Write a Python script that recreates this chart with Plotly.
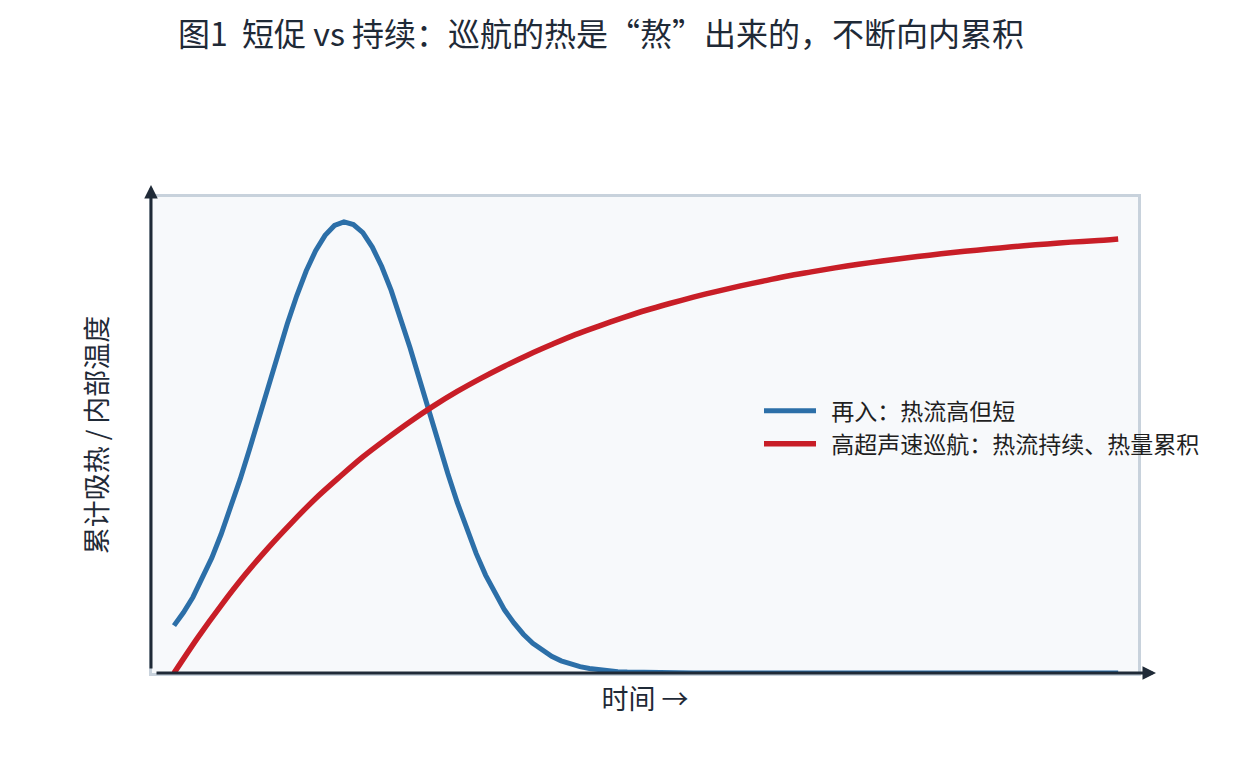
import plotly.graph_objects as go

# ---- data ----
reentry_x = [0.0, 0.1, 0.2, 0.3, 0.4, 0.5, 0.6, 0.7, 0.8, 0.9, 1.0, 1.1, 1.2, 1.3, 1.4,
             1.5, 1.6, 1.7, 1.8, 1.9, 2.0, 2.1, 2.2, 2.3, 2.4, 2.5, 2.6, 2.7, 2.8, 2.9,
             3.0, 3.1, 3.2, 3.3, 3.4, 3.5, 3.6, 3.7, 3.8, 3.9, 4.0, 4.1, 4.2, 4.3, 4.4,
             4.5, 4.6, 4.7, 4.8, 4.9, 5.0, 5.5, 6.0, 6.5, 7.0, 7.5, 8.0, 8.5, 9.0, 9.5, 10.0]
reentry_y = [0.105, 0.134, 0.168, 0.209, 0.255, 0.308, 0.366, 0.429, 0.496, 0.566,
             0.637, 0.707, 0.774, 0.836, 0.891, 0.936, 0.970, 0.992, 1.000, 0.994,
             0.976, 0.944, 0.901, 0.848, 0.787, 0.721, 0.651, 0.580, 0.510, 0.442,
             0.378, 0.319, 0.265, 0.217, 0.176, 0.140, 0.111, 0.086, 0.066, 0.050,
             0.037, 0.027, 0.020, 0.014, 0.010, 0.007, 0.005, 0.003, 0.002, 0.0014,
             0.0009, 0.0001, 0.0, 0.0, 0.0, 0.0, 0.0, 0.0, 0.0, 0.0, 0.0]

cruise_x = [0.0, 0.25, 0.5, 0.75, 1.0, 1.25, 1.5, 1.75, 2.0, 2.25, 2.5, 2.75, 3.0, 3.25,
            3.5, 3.75, 4.0, 4.25, 4.5, 4.75, 5.0, 5.25, 5.5, 5.75, 6.0, 6.25, 6.5, 6.75,
            7.0, 7.25, 7.5, 7.75, 8.0, 8.25, 8.5, 8.75, 9.0, 9.25, 9.5, 9.75, 10.0]
cruise_y = [0.0, 0.078, 0.150, 0.217, 0.278, 0.334, 0.387, 0.434, 0.479, 0.519,
            0.557, 0.592, 0.624, 0.653, 0.680, 0.705, 0.728, 0.750, 0.769, 0.787,
            0.804, 0.819, 0.833, 0.846, 0.858, 0.869, 0.880, 0.889, 0.898, 0.906,
            0.913, 0.920, 0.926, 0.932, 0.937, 0.942, 0.947, 0.951, 0.955, 0.958, 0.962]

series_names = ["再入：热流高但短", "高超声速巡航：热流持续、热量累积"]
title_text = "图1  短促 vs 持续：巡航的热是“熬”出来的，不断向内累积"
x_title = "时间 →"
y_title = "累计吸热 / 内部温度"

BLUE = "#2c6fa8"
RED = "#c81e27"
DARK = "#1f2a37"
BORDER = "#c8d2dc"
FONT = "Noto Sans CJK SC"

fig = go.Figure()
fig.add_trace(go.Scatter(
    x=reentry_x, y=reentry_y, mode="lines", name="\u00a0\u00a0" + series_names[0],
    line=dict(color=BLUE, width=5), cliponaxis=False, legendgroup="a"))
fig.add_trace(go.Scatter(
    x=cruise_x, y=cruise_y, mode="lines", name="\u00a0\u00a0" + series_names[1],
    line=dict(color=RED, width=5.5, shape="spline", smoothing=0.8), cliponaxis=False,
    legendgroup="b"))

W, H = 1241, 761
OFF = 8  # page body margin
# target pixel positions on the page
PL, PR, PT, PB = 152, 1138, 197, 673
L, T = PL - OFF, PT - OFF
R = W - (PR - OFF)
B = H - (PB - OFF)
PW = PR - PL
PH = PB - PT

fig.update_layout(
    width=W, height=H,
    margin=dict(l=L, r=R, t=T, b=B),
    paper_bgcolor="white",
    plot_bgcolor="#f7f9fb",
    font=dict(family=FONT, color=DARK),
    title=dict(text=title_text, x=(178 - OFF) / W, xref="container", xanchor="left",
               y=1 - (35 - OFF) / H, yref="container", yanchor="middle",
               font=dict(size=32, family=FONT, color=DARK)),
    showlegend=True,
    legend=dict(x=(759 - PL) / PW, y=0.596, xanchor="left", yanchor="top",
                bgcolor="rgba(0,0,0,0)", borderwidth=0, itemwidth=52,
                tracegroupgap=0, font=dict(size=23, family=FONT, color="#1f1f1f")),
)
fig.update_xaxes(range=[-0.233, 10.21], showgrid=False, zeroline=False,
                 showticklabels=False, ticks="", showline=True, linecolor=BORDER,
                 linewidth=2.5, mirror=True,
                 title=dict(text=x_title, font=dict(size=27, family=FONT, color=DARK),
                            standoff=16))
fig.update_yaxes(range=[0, 1.055], showgrid=False, zeroline=False,
                 showticklabels=False, ticks="", showline=True, linecolor=BORDER,
                 linewidth=2.5, mirror=True,
                 title=dict(text=y_title, font=dict(size=27, family=FONT, color=DARK),
                            standoff=34))

# axis arrows
fig.add_annotation(x=(151 - PL) / PW, y=(PB - 185) / PH, xref="paper", yref="paper",
                   ax=0, ay=(670 - 185), text="", showarrow=True,
                   arrowhead=2, arrowsize=0.9, arrowwidth=3, arrowcolor=DARK)
fig.add_annotation(x=(1156 - PL) / PW, y=0, xref="paper", yref="paper",
                   ax=-(1156 - 155), ay=0, text="", showarrow=True,
                   arrowhead=2, arrowsize=0.9, arrowwidth=3, arrowcolor=DARK)

fig.write_html("out.html")
